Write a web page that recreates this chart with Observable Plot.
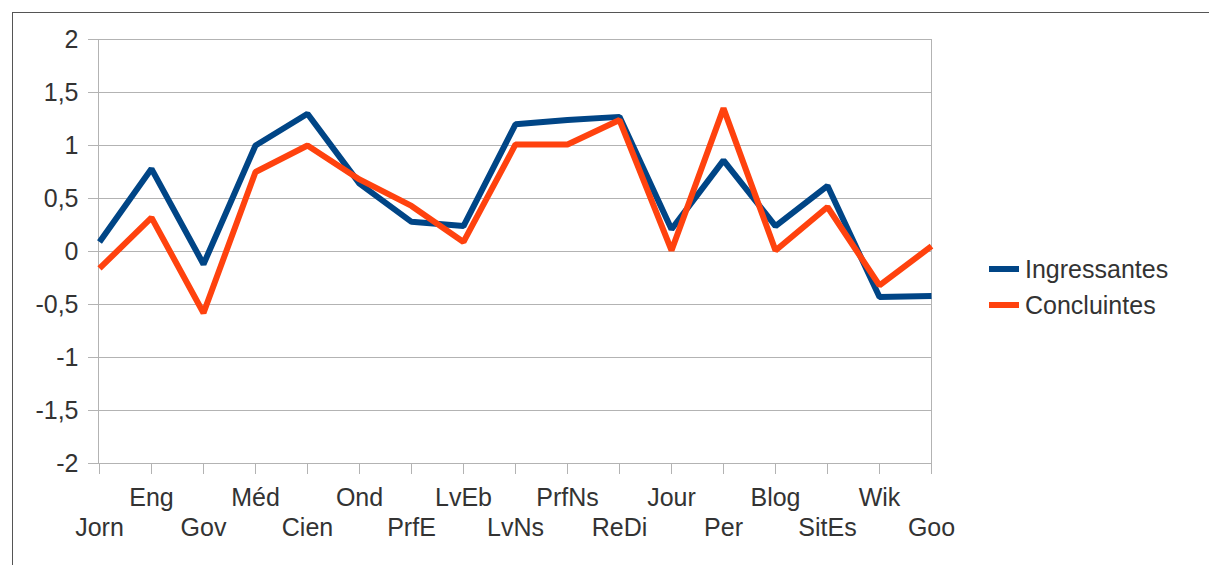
<!DOCTYPE html>
<html>
<head>
<meta charset="utf-8">
<script src="https://cdn.jsdelivr.net/npm/d3@7"></script>
<script src="https://cdn.jsdelivr.net/npm/@observablehq/plot@0.6"></script>
<style>
  html, body { margin: 0; padding: 0; background: #fff; }
  #wrap { position: relative; width: 1209px; height: 565px; overflow: hidden; font-family: "Liberation Sans", Arial, sans-serif; }
  #border { position: absolute; left: 12px; top: 12px; width: 1400px; height: 800px; border-left: 1px solid #555; border-top: 1px solid #555; }
  #chart { position: absolute; left: 0; top: 0; }
  #legend { position: absolute; left: 989px; top: 251px; color: #333; font-size: 25px; }
  .item { display: flex; align-items: center; height: 36px; }
  .sw { width: 30px; height: 6px; margin-right: 6px; }
</style>
</head>
<body>
<div id="wrap">
  <div id="border"></div>
  <div id="chart"></div>
  <div id="legend"></div>
</div>
<script>
const categories = ["Jorn","Eng","Gov","Méd","Cien","Ond","PrfE","LvEb","LvNs","PrfNs","ReDi","Jour","Per","Blog","SitEs","Wik","Goo"];
const ingressantes = [0.09,0.78,-0.12,1.0,1.3,0.64,0.28,0.24,1.2,1.24,1.27,0.21,0.86,0.24,0.62,-0.43,-0.42];
const concluintes = [-0.16,0.32,-0.58,0.75,1.0,0.68,0.43,0.09,1.01,1.01,1.24,0.01,1.35,0.01,0.42,-0.32,0.05];
const seriesNames = ["Ingressantes","Concluintes"];
const seriesColors = ["#004586","#ff420e"];
const yTicks = [-2,-1.5,-1,-0.5,0,0.5,1,1.5,2];

const seriesValues = [ingressantes, concluintes];
const data = [];
seriesNames.forEach((name, si) => {
  categories.forEach((c, i) => data.push({category: c, value: seriesValues[si][i], series: name}));
});
const upper = categories.filter((d, i) => i % 2 === 1);
const lower = categories.filter((d, i) => i % 2 === 0);
const fmt = d => String(d).replace(".", ",");

const chart = Plot.plot({
  width: 1209,
  height: 565,
  marginLeft: 98,
  marginRight: 278,
  marginTop: 39,
  marginBottom: 102,
  style: {fontFamily: "'Liberation Sans', Arial, sans-serif", fontSize: "25px", color: "#333", background: "transparent", overflow: "visible"},
  x: {type: "point", domain: categories, padding: 0, axis: null, label: null},
  y: {domain: [-2, 2], axis: null, label: null},
  color: {domain: seriesNames, range: seriesColors},
  marks: [
    Plot.gridY(yTicks, {stroke: "#b3b3b3", strokeOpacity: 1, strokeWidth: 1}),
    Plot.frame({stroke: "#b3b3b3", strokeWidth: 1}),
    Plot.axisY(yTicks, {tickSize: 10, tickPadding: 10, stroke: "#b3b3b3", strokeOpacity: 1, tickFormat: fmt, fill: "#333", fontSize: 25, label: null}),
    Plot.axisX(categories, {tickSize: 11, stroke: "#b3b3b3", strokeOpacity: 1, tickFormat: () => "", label: null}),
    Plot.text(upper, {x: d => d, text: d => d, frameAnchor: "bottom", dy: 42, fill: "#333", fontSize: 25}),
    Plot.text(lower, {x: d => d, text: d => d, frameAnchor: "bottom", dy: 72, fill: "#333", fontSize: 25}),
    Plot.line(data, {x: "category", y: "value", z: "series", stroke: "series", strokeWidth: 6, strokeLinejoin: "miter", strokeLinecap: "butt"})
  ]
});
document.getElementById("chart").appendChild(chart);

const legend = document.getElementById("legend");
seriesNames.forEach((name, i) => {
  const item = document.createElement("div");
  item.className = "item";
  const sw = document.createElement("div");
  sw.className = "sw";
  sw.style.background = seriesColors[i];
  const label = document.createElement("span");
  label.textContent = name;
  item.appendChild(sw);
  item.appendChild(label);
  legend.appendChild(item);
});
</script>
</body>
</html>
